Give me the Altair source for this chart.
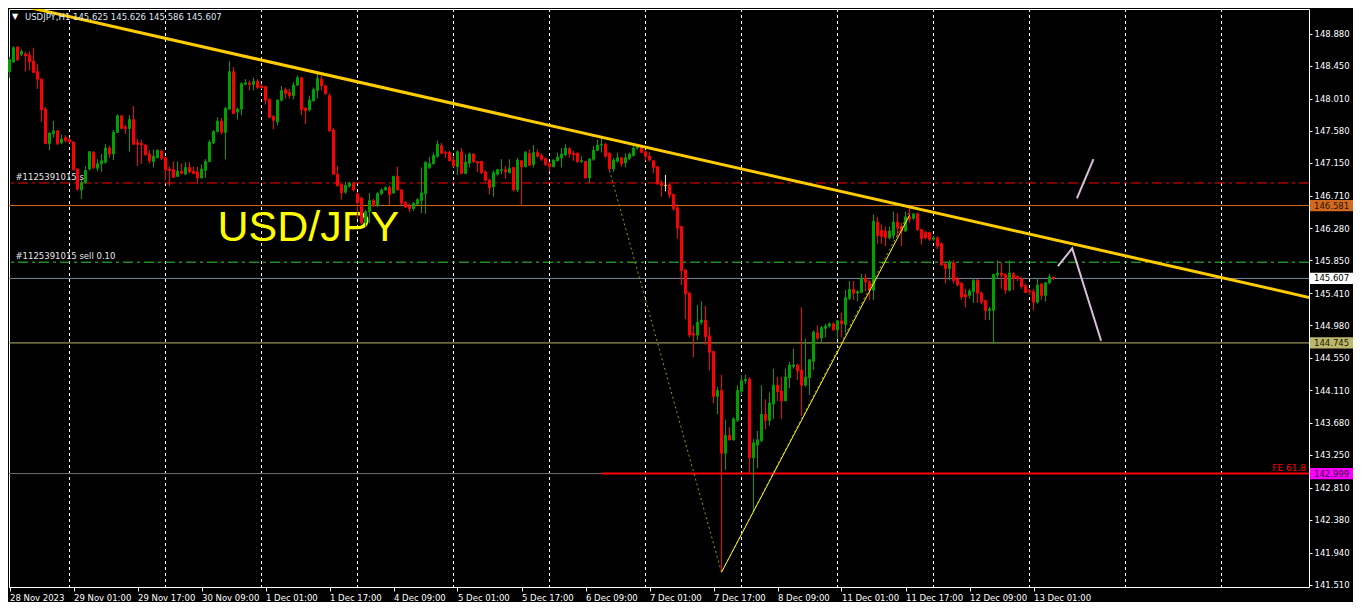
import altair as alt
import pandas as pd

# ---------------- data (H1 candles, bar index 0 = 28 Nov 09:00) ----------------
OPEN = [148.37,148.50,148.70,148.60,148.61,148.59,148.51,148.37,148.27,147.87,
        147.41,147.54,147.58,147.42,147.49,147.46,147.43,147.07,146.79,146.89,
        147.07,147.29,147.08,147.14,147.16,147.35,147.27,147.56,147.78,147.63,
        147.61,147.73,147.42,147.41,147.39,147.27,147.17,147.22,147.31,147.22,
        147.07,147.06,146.97,147.04,147.00,147.09,147.04,147.03,146.95,147.05,
        147.17,147.42,147.57,147.71,147.56,147.87,148.37,147.83,147.87,148.20,
        148.22,148.20,148.24,148.18,148.17,148.00,147.77,147.70,147.99,148.13,
        148.09,148.05,148.19,148.29,147.88,147.86,147.98,148.12,148.27,148.18,
        148.05,147.59,147.00,146.86,146.76,146.84,146.88,146.74,146.68,146.35,
        146.50,146.65,146.58,146.74,146.79,146.82,146.75,146.97,146.79,146.62,
        146.57,146.54,146.60,146.65,146.74,147.09,147.14,147.24,147.38,147.29,
        147.29,147.19,147.10,147.30,147.01,147.15,147.27,147.17,147.17,147.03,
        146.92,146.83,147.00,147.05,147.06,147.02,147.09,146.79,147.18,147.10,
        147.28,147.13,147.29,147.25,147.21,147.14,147.10,147.18,147.22,147.26,
        147.34,147.28,147.28,147.17,147.17,146.95,147.20,147.32,147.39,147.40,
        147.28,147.07,147.17,147.22,147.15,147.21,147.25,147.35,147.37,147.30,
        147.24,147.18,147.10,146.88,146.85,146.86,146.73,146.55,146.30,145.72,
        145.41,144.87,144.85,145.02,145.05,144.84,144.63,144.03,144.11,143.27,
        143.51,143.45,143.71,144.10,144.24,144.26,143.21,143.38,143.44,143.79,
        143.71,143.93,144.18,144.10,143.97,144.28,144.43,144.45,144.38,144.18,
        144.28,144.50,144.88,144.81,144.94,144.97,145.00,144.92,145.04,144.99,
        145.34,145.46,145.41,145.42,145.61,145.56,145.45,146.36,146.25,146.24,
        146.15,146.18,146.36,146.30,146.24,146.43,146.41,146.47,146.26,146.22,
        146.22,146.13,146.15,146.07,145.80,145.74,145.82,145.60,145.54,145.39,
        145.38,145.43,145.58,145.41,145.31,145.18,145.18,145.65,145.68,145.66,
        145.45,145.67,145.63,145.60,145.51,145.44,145.43,145.29,145.53,145.38,
        145.55,145.625]
HIGH = [148.57,148.71,148.71,148.67,148.64,148.64,148.69,148.47,148.28,147.90,
        147.56,147.71,147.59,147.53,147.52,147.49,147.44,147.08,146.92,147.11,
        147.31,147.31,147.20,147.27,147.40,147.38,147.59,147.80,147.79,147.66,
        147.79,147.91,147.47,147.46,147.40,147.32,147.33,147.33,147.33,147.22,
        147.10,147.17,147.17,147.14,147.16,147.16,147.10,147.10,147.13,147.20,
        147.46,147.59,147.76,147.75,147.90,148.51,148.43,147.89,148.23,148.27,
        148.25,148.29,148.27,148.21,148.18,148.01,147.79,148.00,148.18,148.16,
        148.14,148.23,148.32,148.30,147.90,148.05,148.16,148.35,148.32,148.19,
        148.08,147.62,147.11,146.87,146.90,146.90,146.90,146.76,146.70,146.52,
        146.75,146.67,146.76,146.81,146.84,146.85,146.98,147.10,146.80,146.64,
        146.61,146.63,146.68,147.09,147.17,147.23,147.29,147.45,147.42,147.31,
        147.31,147.24,147.32,147.35,147.27,147.29,147.28,147.17,147.18,147.05,
        146.94,147.05,147.07,147.20,147.11,147.20,147.10,147.22,147.18,147.31,
        147.33,147.39,147.33,147.28,147.22,147.16,147.20,147.29,147.35,147.40,
        147.36,147.31,147.29,147.24,147.18,147.22,147.38,147.46,147.49,147.42,
        147.29,147.22,147.29,147.23,147.28,147.29,147.39,147.40,147.39,147.31,
        147.29,147.19,147.11,146.92,146.99,146.87,146.74,146.60,146.31,145.73,
        145.43,144.98,145.25,145.30,145.24,144.96,144.64,144.16,144.32,143.72,
        143.62,143.75,144.18,144.32,144.32,144.29,143.46,143.57,144.18,143.99,
        144.08,144.40,144.29,144.29,144.40,144.49,144.67,144.47,145.22,144.80,
        144.53,144.91,144.98,144.97,145.00,145.02,145.02,145.05,145.15,145.45,
        145.57,145.57,145.45,145.67,145.67,145.58,146.46,146.43,146.33,146.30,
        146.30,146.50,146.48,146.35,146.50,146.58,146.48,146.49,146.27,146.24,
        146.23,146.18,146.17,146.09,145.82,145.85,145.85,145.63,145.56,145.47,
        145.47,145.61,145.60,145.43,145.32,145.23,145.67,145.85,145.82,145.67,
        145.85,145.69,145.65,145.63,145.53,145.47,145.47,145.61,145.55,145.56,
        145.67,145.626]
LOW = [148.29,148.49,148.51,148.58,148.37,148.39,148.36,148.14,147.70,147.40,
       147.32,147.49,147.39,147.40,147.42,147.41,147.05,146.78,146.67,146.87,
       147.05,147.07,147.04,147.03,147.14,147.22,147.19,147.55,147.60,147.54,
       147.30,147.39,147.11,147.14,147.25,147.14,147.09,147.21,147.19,146.92,
       146.84,146.95,146.96,147.00,146.99,147.01,147.00,146.87,146.94,146.95,
       147.16,147.40,147.56,147.53,147.20,147.86,147.80,147.73,147.79,148.19,
       148.12,148.12,148.14,148.14,147.93,147.75,147.60,147.65,147.97,148.01,
       148.01,148.00,148.18,147.79,147.67,147.84,147.97,148.01,148.12,148.06,
       147.57,147.00,146.83,146.66,146.74,146.82,146.77,146.40,146.33,146.30,
       146.35,146.56,146.56,146.72,146.78,146.59,146.74,146.78,146.59,146.55,
       146.49,146.51,146.59,146.48,146.47,147.07,147.13,147.22,147.27,147.22,
       147.17,147.09,146.99,147.00,147.00,147.09,147.15,147.03,147.00,146.90,
       146.73,146.70,146.98,147.00,146.94,147.01,146.77,146.76,146.57,147.09,
       147.11,147.09,147.22,147.18,147.11,147.04,147.09,147.17,147.09,147.24,
       147.22,147.18,147.15,147.15,146.94,146.88,147.18,147.31,147.29,147.22,
       147.05,147.03,147.16,147.10,147.09,147.19,147.24,147.33,147.28,147.18,
       147.17,147.01,146.86,146.70,146.77,146.68,146.51,146.14,145.52,145.06,
       144.82,144.55,144.78,144.99,144.72,144.38,143.94,143.79,141.68,143.05,
       143.44,143.44,143.69,144.05,144.20,143.00,142.50,143.07,143.42,143.59,
       143.64,143.73,143.97,143.73,143.97,144.14,144.40,144.25,143.77,144.16,
       144.05,144.38,144.78,144.75,144.82,144.95,144.91,144.80,144.82,144.88,
       145.32,145.32,145.30,145.41,145.43,145.32,145.32,146.07,146.07,146.04,
       146.13,146.13,146.17,146.04,146.23,146.35,146.39,146.24,146.06,146.13,
       146.11,146.11,146.00,145.77,145.54,145.58,145.54,145.50,145.32,145.22,
       145.34,145.28,145.28,145.26,145.05,145.05,144.73,145.60,145.47,145.40,
       145.43,145.45,145.57,145.47,145.41,145.39,145.18,145.27,145.32,145.30,
       145.53,145.586]
CLOSE = [148.53,148.69,148.53,148.64,148.58,148.50,148.36,148.27,147.86,147.41,
         147.55,147.58,147.41,147.47,147.45,147.43,147.06,146.80,146.89,147.05,
         147.30,147.09,147.14,147.18,147.35,147.27,147.56,147.78,147.61,147.61,
         147.73,147.40,147.40,147.39,147.26,147.18,147.24,147.32,147.21,147.06,
         147.05,146.96,147.04,147.01,147.09,147.03,147.01,146.95,147.07,147.17,
         147.43,147.57,147.71,147.56,147.88,148.37,147.81,147.87,148.21,148.22,
         148.20,148.24,148.16,148.16,147.99,147.76,147.72,147.99,148.12,148.08,
         148.05,148.19,148.29,147.86,147.85,147.99,148.13,148.28,148.18,148.08,
         147.58,147.00,146.85,146.75,146.85,146.88,146.79,146.62,146.35,146.50,
         146.65,146.58,146.74,146.79,146.82,146.73,146.97,146.79,146.61,146.56,
         146.54,146.61,146.66,146.75,147.16,147.14,147.25,147.40,147.28,147.28,
         147.18,147.11,147.30,147.01,147.16,147.27,147.17,147.15,147.02,146.92,
         146.82,147.02,147.06,147.06,147.03,147.08,146.79,147.19,147.10,147.29,
         147.12,147.29,147.24,147.20,147.13,147.10,147.19,147.23,147.27,147.35,
         147.27,147.26,147.17,147.18,146.95,147.20,147.32,147.39,147.40,147.24,
         147.07,147.19,147.22,147.14,147.22,147.27,147.35,147.38,147.29,147.24,
         147.19,147.09,146.87,146.85,146.85,146.72,146.54,146.28,145.71,145.40,
         144.85,144.85,145.02,145.05,144.83,144.62,144.03,144.11,143.27,143.51,
         143.45,143.73,144.11,144.24,144.26,143.21,143.41,143.45,143.79,143.71,
         143.94,144.18,144.09,143.97,144.29,144.45,144.45,144.37,144.18,144.29,
         144.52,144.89,144.81,144.95,144.97,145.00,144.92,145.04,145.00,145.35,
         145.46,145.41,145.43,145.61,145.56,145.45,146.37,146.18,146.17,146.15,
         146.24,146.36,146.28,146.24,146.43,146.40,146.47,146.26,146.14,146.15,
         146.13,146.15,146.04,145.79,145.74,145.82,145.58,145.52,145.36,145.36,
         145.44,145.58,145.41,145.29,145.18,145.20,145.66,145.68,145.65,145.45,
         145.68,145.61,145.60,145.50,145.42,145.43,145.29,145.52,145.38,145.55,
         145.63,145.607]

XTICK_BARS = [0, 16, 32, 48, 64, 80, 96, 112, 128, 144, 160, 176, 192, 208, 224, 240, 256]
XTICK_LABELS = ["28 Nov 2023", "29 Nov 01:00", "29 Nov 17:00", "30 Nov 09:00", "1 Dec 01:00",
                "1 Dec 17:00", "4 Dec 09:00", "5 Dec 01:00", "5 Dec 17:00", "6 Dec 09:00",
                "7 Dec 01:00", "7 Dec 17:00", "8 Dec 09:00", "11 Dec 01:00", "11 Dec 17:00",
                "12 Dec 09:00", "13 Dec 01:00"]
YTICKS = [148.880, 148.450, 148.010, 147.580, 147.150, 146.710, 146.280, 145.850, 145.410,
          144.980, 144.550, 144.110, 143.680, 143.250, 142.810, 142.380, 141.940, 141.510]
GRID_BARS = [15, 39, 63, 87, 111, 135, 159, 183, 207, 231, 255, 279, 303]

SL_PRICE = 146.883
ORDER_PRICE = 145.824
ORANGE_PRICE = 146.581
BID_PRICE = 145.607
KHAKI_PRICE = 144.745
FE_PRICE = 142.999
FE_START = 148

TREND_BARS = [-1, 328.2]
TREND_PRICES = [149.300, 145.313]
FIB_BARS = [150, 178, 225]
FIB_PRICES = [147.05, 141.68, 146.50]
YEL_BARS = [178, 225]
YEL_PRICES = [141.68, 146.45]
ARROW_GROUP = ["a", "a", "b", "b", "b"]
ARROW_BARS = [266.85, 271.0, 262.1, 265.675, 272.9]
ARROW_PRICES = [146.677, 147.201, 145.772, 146.008, 144.775]

TAG_PRICES = [146.581, 145.607, 144.745, 142.999]
TAG_TEXT = ["146.581", "145.607", "144.745", "142.999"]
TAG_BG = ["#D2691E", "#FFFFFF", "#BDB76B", "#FF00FF"]
TAG_FG = ["#2A1200", "#000000", "#1A1A00", "#300030"]

HEADER = "USDJPY,H1  145.625 145.626 145.586 145.607"

# ---------------- chart ----------------
W, H = 1300, 578
FONT = "DejaVu Sans"
xs = alt.Scale(domain=[-0.125, 324.875], nice=False, zero=False)
ys = alt.Scale(domain=[141.483, 149.208], nice=False, zero=False)

label_expr = "[" + ",".join("'%s'" % s for s in XTICK_LABELS) + "][round(datum.value/16)]"
xaxis = alt.Axis(values=XTICK_BARS, labelExpr=label_expr, title=None, labelAlign="left",
                 labelColor="white", labelFont=FONT, labelFontSize=8.5, tickColor="white",
                 tickSize=4, labelPadding=2, domain=False, grid=False, labelOverlap=False,
                 labelFlush=False)
yaxis = alt.Axis(orient="right", values=YTICKS, format=".3f", title=None, labelColor="white",
                 labelFont=FONT, labelFontSize=8.5, tickColor="white", tickSize=3,
                 labelPadding=2, domain=False, grid=False, labelOverlap=False, labelFlush=False)


def X(f):
    return alt.X(f, type="quantitative", scale=xs, axis=xaxis)


def Y(f):
    return alt.Y(f, type="quantitative", scale=ys, axis=yaxis)


df = pd.DataFrame({"i": list(range(len(OPEN))), "o": OPEN, "h": HIGH, "l": LOW, "c": CLOSE})
df["col"] = ["#00A000" if c > o else ("#FF0000" if c < o else "#FFFF00")
             for o, c in zip(OPEN, CLOSE)]

grid = alt.Chart(pd.DataFrame({"g": GRID_BARS})).mark_rule(
    color="white", strokeDash=[3, 3], strokeWidth=1).encode(x=X("g"))


def hline(price, color, width=1, dash=None):
    kw = dict(color=color, strokeWidth=width)
    if dash:
        kw["strokeDash"] = dash
    return alt.Chart(pd.DataFrame({"p": [price]})).mark_rule(**kw).encode(y=Y("p"))


fe_thin = hline(FE_PRICE, "#6E6E6E")
fe_red = alt.Chart(pd.DataFrame({"s": [FE_START], "p": [FE_PRICE]})).mark_rule(
    color="#FF0000", strokeWidth=2).encode(x=X("s"), x2=alt.value(W), y=Y("p"))
orange = hline(ORANGE_PRICE, "#D2691E")
bid = hline(BID_PRICE, "#778899")
khaki = hline(KHAKI_PRICE, "#BDB76B")
green_dd = hline(ORDER_PRICE, "#32CD32", 1, [10, 4, 3, 4])
red_dd = hline(SL_PRICE, "#FF0000", 1, [10, 4, 3, 4])

order_txt = alt.Chart(pd.DataFrame({
    "t": ["#1125391015 sl", "#1125391015 sell 0.10"],
    "p": [SL_PRICE, ORDER_PRICE], "x": [1.5, 1.5]})).mark_text(
    align="left", baseline="alphabetic", dy=-3, font=FONT, fontSize=8.5, color="#E6E6E6"
).encode(x=X("x"), y=Y("p"), text="t:N")

usdjpy = alt.Chart(pd.DataFrame({"t": ["USD/JPY"], "x": [52.0], "p": [146.113]})).mark_text(
    align="left", baseline="alphabetic", font="Liberation Sans", fontSize=43, color="#FFFF00"
).encode(x=X("x"), y=Y("p"), text="t:N")

wicks = alt.Chart(df).mark_rule(strokeWidth=1).encode(
    x=X("i"), y=Y("l"), y2="h:Q", color=alt.Color("col:N", scale=None))
bodies = alt.Chart(df).transform_calculate(
    x1="datum.i - 0.25", x2="datum.i + 0.25").mark_rect(strokeWidth=1).encode(
    x=X("x1"), x2="x2:Q", y=Y("o"), y2="c:Q",
    color=alt.Color("col:N", scale=None), stroke=alt.Stroke("col:N", scale=None))

fib = alt.Chart(pd.DataFrame({"x": FIB_BARS, "p": FIB_PRICES, "k": [0, 1, 2]})).mark_line(
    color="#9A9A00", strokeWidth=1, strokeDash=[2, 3]).encode(
    x=X("x"), y=Y("p"), order="k:Q")
yel = alt.Chart(pd.DataFrame({"x": YEL_BARS, "p": YEL_PRICES})).mark_line(
    color="#FFFF00", strokeWidth=1).encode(x=X("x"), y=Y("p"))
trend = alt.Chart(pd.DataFrame({"x": TREND_BARS, "p": TREND_PRICES})).mark_line(
    color="#FFCC00", strokeWidth=3, clip=True).encode(x=X("x"), y=Y("p"))
arrows = alt.Chart(pd.DataFrame({"g": ARROW_GROUP, "x": ARROW_BARS, "p": ARROW_PRICES,
                                 "k": list(range(5))})).mark_line(
    color="#D8BFD8", strokeWidth=2).encode(x=X("x"), y=Y("p"), detail="g:N", order="k:Q")

fe_txt = alt.Chart(pd.DataFrame({"t": ["FE 61.8"], "p": [FE_PRICE]})).mark_text(
    align="right", baseline="alphabetic", dy=-3, font=FONT, fontSize=9, color="#FF0000"
).encode(x=alt.value(W - 3), y=Y("p"), text="t:N")

hdr_tri = alt.Chart(pd.DataFrame({"t": ["\u25bc"]})).mark_text(
    align="left", baseline="middle", font=FONT, fontSize=8, color="white"
).encode(x=alt.value(3), y=alt.value(8), text="t:N")
hdr = alt.Chart(pd.DataFrame({"t": [HEADER]})).mark_text(
    align="left", baseline="middle", font=FONT, fontSize=8.5, color="#DDE6F2"
).encode(x=alt.value(16), y=alt.value(8), text="t:N")

tags = pd.DataFrame({"p": TAG_PRICES, "t": TAG_TEXT, "bg": TAG_BG, "fg": TAG_FG})
tag_rect = alt.Chart(tags).transform_calculate(
    lo="datum.p - 0.075", hi="datum.p + 0.075").mark_rect().encode(
    x=alt.value(W + 1), x2=alt.value(W + 44), y=Y("lo"), y2="hi:Q",
    color=alt.Color("bg:N", scale=None))
tag_txt = alt.Chart(tags).mark_text(
    align="left", baseline="middle", font=FONT, fontSize=8.5).encode(
    x=alt.value(W + 5), y=Y("p"), text="t:N", color=alt.Color("fg:N", scale=None))

chart = alt.layer(
    grid, fe_thin, fe_red, orange, bid, khaki, green_dd, red_dd,
    order_txt, usdjpy, wicks, bodies, fib, yel, trend, arrows,
    fe_txt, hdr_tri, hdr, tag_rect, tag_txt
).properties(
    width=W, height=H, background="black",
    padding={"left": 0, "top": 0, "right": 0, "bottom": 0}
).configure_view(stroke="white", strokeWidth=1, fill="black")

chart.save("out.html", embed_options={"renderer": "svg", "actions": False})
